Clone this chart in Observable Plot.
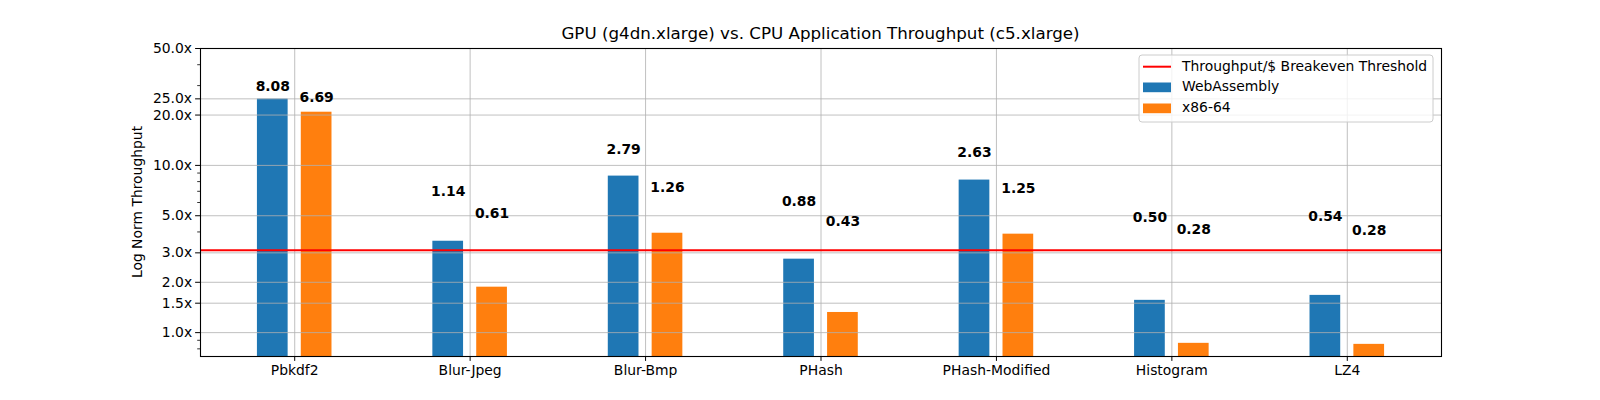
<!DOCTYPE html>
<html>
<head>
<meta charset="utf-8">
<script src="https://cdn.jsdelivr.net/npm/d3@7"></script>
<script src="https://cdn.jsdelivr.net/npm/@observablehq/plot@0.6"></script>
<style>
  html, body { margin: 0; padding: 0; background: white; }
  #chart { position: relative; width: 1600px; height: 400px; }
</style>
</head>
<body>
<div id="chart"></div>
<script>
const categories = ["Pbkdf2", "Blur-Jpeg", "Blur-Bmp", "PHash", "PHash-Modified", "Histogram", "LZ4"];
const wasmValues = [24.9, 3.52, 8.63, 2.75, 8.17, 1.56, 1.67];
const x86Values = [20.8, 1.87, 3.93, 1.32, 3.88, 0.863, 0.851];
const wasmLabels = [8.08, 1.14, 2.79, 0.88, 2.63, 0.50, 0.54];
const x86Labels = [6.69, 0.61, 1.26, 0.43, 1.25, 0.28, 0.28];
const threshold = 3.11;
const majorTicks = [1, 1.5, 2, 3, 5, 10, 20, 25, 50];
const minorTicks = [0.8, 0.9, 4, 6, 7, 8, 9, 30, 40];
const seriesNames = ["WebAssembly", "x86-64"];
const colors = ["#1f77b4", "#ff7f0e"];
const titleText = "GPU (g4dn.xlarge) vs. CPU Application Throughput (c5.xlarge)";
const yLabelText = "Log Norm Throughput";
const legendThreshold = "Throughput/$ Breakeven Threshold";

const yMin = 0.72, yMax = 50;
const barW = 0.175, off = 0.125;

const rows = [];
categories.forEach((c, i) => {
  rows.push({i, cat: c, series: 0, value: wasmValues[i], label: wasmLabels[i]});
  rows.push({i, cat: c, series: 1, value: x86Values[i], label: x86Labels[i]});
});
const cx = d => d.i + (d.series === 0 ? -off : off);

const fs = 13.9;
const plot = Plot.plot({
  width: 1600,
  height: 400,
  marginLeft: 200,
  marginRight: 159,
  marginTop: 48,
  marginBottom: 44,
  style: {fontFamily: "DejaVu Sans", fontSize: fs + "px", background: "white", color: "black"},
  x: {type: "linear", domain: [-0.537, 6.537]},
  y: {type: "log", domain: [yMin, yMax]},
  marks: [
    Plot.rect(rows, {
      x1: d => cx(d) - barW / 2, x2: d => cx(d) + barW / 2,
      y1: () => yMin, y2: "value",
      fill: d => colors[d.series]
    }),
    Plot.gridX(d3.range(categories.length), {stroke: "#b0b0b0", strokeOpacity: 1, strokeWidth: 0.8}),
    Plot.gridY(majorTicks, {stroke: "#b0b0b0", strokeOpacity: 1, strokeWidth: 0.8}),
    Plot.ruleY([threshold], {stroke: "red", strokeWidth: 2}),
    Plot.text(rows, {
      x: cx, y: d => d.value + 3, text: d => d3.format(".2f")(d.label),
      lineAnchor: "bottom", fontWeight: "bold", fontSize: fs, fill: "black"
    }),
    Plot.axisX(d3.range(categories.length), {
      tickFormat: i => categories[i], tickSize: 4.9, tickPadding: 3.5, label: null, fontSize: fs
    }),
    Plot.axisY(majorTicks, {
      tickFormat: d => d.toFixed(1) + "x", tickSize: 4.9, tickPadding: 3.5, label: null, fontSize: fs
    }),
    Plot.axisY(minorTicks, {tickFormat: () => "", tickSize: 2.8, strokeWidth: 0.8, label: null}),
    Plot.frame({stroke: "black", strokeWidth: 1.1})
  ]
});

document.getElementById("chart").appendChild(plot);
const svg = d3.select(plot);

svg.append("text")
  .attr("x", (200 + 1441) / 2).attr("y", 34)
  .attr("text-anchor", "middle").attr("dominant-baseline", "middle")
  .attr("font-family", "DejaVu Sans").attr("font-size", 16.7)
  .attr("fill", "black").text(titleText);

svg.append("text")
  .attr("transform", "translate(138,202) rotate(-90)")
  .attr("text-anchor", "middle").attr("dominant-baseline", "middle")
  .attr("font-family", "DejaVu Sans").attr("font-size", fs)
  .attr("fill", "black").text(yLabelText);

// legend
const lg = svg.append("g").attr("font-family", "DejaVu Sans").attr("font-size", fs).attr("text-anchor", "start");
lg.append("rect").attr("x", 1139).attr("y", 55).attr("width", 294).attr("height", 67)
  .attr("rx", 3).attr("fill", "white").attr("fill-opacity", 0.8)
  .attr("stroke", "#cccccc").attr("stroke-width", 1);
const rowY = [66.7, 87.3, 108.3];
lg.append("line").attr("x1", 1143).attr("x2", 1171).attr("y1", rowY[0]).attr("y2", rowY[0])
  .attr("stroke", "red").attr("stroke-width", 2);
lg.append("text").attr("x", 1182).attr("y", rowY[0]).attr("dominant-baseline", "middle")
  .attr("fill", "black").text(legendThreshold);
seriesNames.forEach((n, k) => {
  lg.append("rect").attr("x", 1143).attr("y", rowY[k + 1] - 4.8).attr("width", 28).attr("height", 9.7)
    .attr("fill", colors[k]);
  lg.append("text").attr("x", 1182).attr("y", rowY[k + 1]).attr("dominant-baseline", "middle")
    .attr("fill", "black").text(n);
});
</script>
</body>
</html>
